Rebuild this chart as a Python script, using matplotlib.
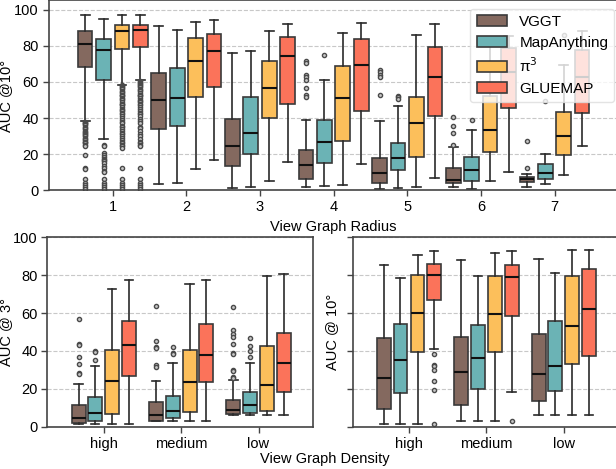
import matplotlib
matplotlib.use('Agg')
import matplotlib.pyplot as plt
from matplotlib.patches import Patch

plt.rcParams['font.family'] = ['Liberation Sans', 'DejaVu Sans']

models = ['VGGT', 'MapAnything', 'π$^3$', 'GLUEMAP']
colors = ['#84695f', '#6bb3b5', '#fcbf5b', '#fb735a']

# ---- top: AUC@10 vs view graph radius (rows = models, cols = radius 1..7)
radius_labels = ['1', '2', '3', '4', '5', '6', '7']
rad_med = [[81.1, 49.9, 24.7, 13.9, 9.4, 5.7, 6.1],
           [77.8, 51.0, 31.9, 27.0, 17.7, 11.3, 9.4],
           [88.3, 71.5, 56.5, 51.2, 37.2, 33.3, 29.9],
           [88.6, 76.9, 74.5, 69.3, 62.8, 65.2, 62.5]]
rad_q1 = [[68.2, 34.2, 13.5, 6.3, 3.9, 4.0, 4.4],
          [61.0, 35.8, 20.1, 15.3, 11.1, 5.0, 6.3],
          [78.2, 51.9, 40.3, 27.2, 18.7, 21.1, 19.4],
          [79.3, 56.9, 48.0, 43.8, 41.2, 45.8, 42.9]]
rad_q3 = [[88.3, 65.0, 39.4, 22.5, 18.1, 12.2, 7.5],
          [83.9, 67.5, 51.7, 39.0, 26.4, 18.5, 14.4],
          [91.7, 84.1, 71.3, 68.6, 51.6, 52.0, 43.3],
          [91.7, 86.3, 84.6, 83.7, 79.5, 78.7, 77.8]]
rad_lo = [[38.4, 3.3, 1.1, 1.7, 0.7, 1.7, 1.7],
          [28.4, 3.9, 2.0, 2.4, 1.1, 0.9, 3.3],
          [58.2, 11.6, 5.3, 3.1, 2.0, 5.3, 8.7],
          [61.0, 16.8, 15.5, 14.6, 6.7, 10.1, 24.7]]
rad_hi = [[97.2, 90.7, 75.8, 38.8, 38.1, 23.8, 8.9],
          [95.0, 88.5, 76.9, 61.2, 46.9, 33.6, 20.0],
          [96.9, 93.3, 88.2, 87.2, 86.1, 79.6, 69.1],
          [96.9, 94.1, 92.2, 92.8, 92.2, 85.6, 88.0]]
rad_fliers = [
    [[38, 37.5, 37, 36.5, 36, 35, 34.5, 34, 33, 32.5, 32, 31, 30.5, 30, 29, 28.5, 28, 27, 26.5,
      26, 25, 24.5, 19.5, 12.5, 12, 6.3, 4.2, 2.9, 1.7, 0.8],
     [], [], [71.3, 70.4, 63.9, 62.6, 61.1, 56.6, 52.9, 51.9],
     [66.7, 65.2, 63.8, 62.7, 52.7], [40.5, 35.8, 31.8, 25.0], [27.5, 12.5]],
    [[25, 24.5, 20.5, 19.5, 18.5, 17.5, 17, 16, 15, 13.5, 12.5, 11, 10, 6.3, 4.2, 2.9, 1.7, 0.8],
     [], [], [74.9], [52.3, 51.5, 50.8], [38.8], [49.5]],
    [[58, 57.5, 57, 56.5, 56, 55, 54.5, 54, 53, 52.5, 52, 51, 50.5, 50, 49, 48, 47.5, 47, 46, 45,
      44.5, 44, 43, 42, 41, 40, 39, 38, 37, 35.5, 35, 34, 33, 31.5, 31, 30, 29, 28, 27, 26, 25,
      24.5, 23.5, 12.5, 6.3, 4.2, 2.9, 1.7, 0.8],
     [], [], [], [], [], [86.1]],
    [[60.5, 60, 59.5, 59, 58, 57.5, 57, 56, 55.5, 55, 54, 53, 52.5, 52, 51, 50, 49.5, 49, 48, 47,
      46, 45, 44, 43, 42, 41, 39.5, 38.5, 37, 35, 34.5, 33, 31, 30, 28.5, 27, 26, 25, 24.5,
      12.5, 6.3, 4.2, 2.9, 1.7, 0.8],
     [], [], [], [], [], []],
]

# ---- bottom: view graph density (cols = high, medium, low)
density_labels = ['high', 'medium', 'low']
d3_med = [[4.4, 6.2, 9.1], [7.2, 8.3, 11.4], [24.1, 23.5, 22.0], [43.2, 37.9, 33.9]]
d3_q1 = [[2.1, 3.2, 6.7], [3.0, 4.8, 7.4], [6.7, 7.9, 8.3], [26.7, 23.7, 18.1]]
d3_q3 = [[11.4, 13.2, 14.2], [15.8, 16.5, 18.1], [40.7, 40.4, 42.6], [56.0, 54.2, 49.5]]
d3_lo = [[1.4, 3.0, 6.0], [1.4, 3.0, 6.0], [1.4, 3.0, 6.0], [1.4, 3.0, 6.0]]
d3_hi = [[22.6, 24.2, 24.7], [32.1, 33.7, 33.5], [72.5, 75.1, 79.7], [77.4, 77.4, 80.5]]
d3_fliers = [
    [[56.7, 43.5, 43.0, 37.0, 33.2, 28.5, 27.7], [63.5, 45.5, 42.0, 41.5, 32.6, 31.5],
     [63.3, 51.0, 49.0, 47.5, 43.7, 38.9, 38.3, 30.0, 29.3, 26.4, 25.9]],
    [[39.8, 39.3, 35.5], [42.3, 38.8, 38.4], [46.8, 42.4, 40.0, 37.0]],
    [[], [], []],
    [[], [], []],
]

d10_med = [[25.5, 29.0, 27.7], [35.5, 36.2, 31.9], [60.0, 59.3, 53.4], [80.2, 78.9, 62.3]]
d10_q1 = [[9.5, 11.3, 13.5], [17.9, 19.8, 18.9], [39.7, 39.7, 33.2], [67.0, 58.6, 37.6]]
d10_q3 = [[46.8, 47.6, 49.0], [54.4, 53.7, 55.6], [80.2, 79.8, 79.5], [85.8, 85.6, 83.4]]
d10_lo = [[1.4, 3.0, 6.2], [1.4, 3.0, 6.2], [1.4, 3.0, 6.2], [41.3, 18.3, 6.2]]
d10_hi = [[85.5, 88.1, 88.3], [78.3, 79.7, 81.1], [90.9, 91.9, 93.4], [92.6, 92.6, 93.5]]
d10_fliers = [
    [[], [], []],
    [[], [], []],
    [[], [], []],
    [[38.4, 32.6, 32.0, 30.0, 24.4, 19.3, 1.4], [3.0], []],
]


def draw_boxes(ax, med, q1, q3, lo, hi, fliers, offsets, width):
    for m in range(len(models)):
        stats = []
        for g in range(len(med[m])):
            stats.append({'med': med[m][g], 'q1': q1[m][g], 'q3': q3[m][g],
                          'whislo': lo[m][g], 'whishi': hi[m][g], 'fliers': fliers[m][g]})
        pos = [g + offsets[m] for g in range(len(stats))]
        ax.bxp(stats, positions=pos, widths=width, capwidths=width * 0.6,
               patch_artist=True, manage_ticks=False,
               boxprops=dict(facecolor=colors[m], edgecolor='#3a3a3a', linewidth=1.2),
               whiskerprops=dict(color='#2a2a2a', linewidth=1.2),
               capprops=dict(color='#2a2a2a', linewidth=1.2),
               medianprops=dict(color='#111111', linewidth=1.5),
               flierprops=dict(marker='o', markersize=3.0, markerfacecolor='#c8c8c8',
                               markeredgecolor='#4a4a4a', markeredgewidth=1.0))


def style_axis(ax):
    ax.set_ylim(0, 100)
    ax.set_yticks([0, 20, 40, 60, 80, 100])
    ax.grid(axis='y', color='#c8c8c8', linestyle='--', linewidth=0.8)
    ax.set_axisbelow(True)
    for s in ax.spines.values():
        s.set_color('#444444')
        s.set_linewidth(1.2)
    ax.tick_params(labelsize=10.5, color='#444444', length=4, width=1.0, pad=3)


fig = plt.figure(figsize=(6.16, 4.69), dpi=100)
ax_top = fig.add_axes([0.079, 0.594, 0.924, 0.405])
ax_bl = fig.add_axes([0.0768, 0.090, 0.4308, 0.404])
ax_br = fig.add_axes([0.5735, 0.090, 0.4297, 0.404])

draw_boxes(ax_top, rad_med, rad_q1, rad_q3, rad_lo, rad_hi, rad_fliers,
           [-0.375, -0.125, 0.125, 0.375], 0.2)
style_axis(ax_top)
ax_top.set_ylim(0, 105)
ax_top.set_xlim(-0.87, 6.86)
ax_top.set_xticks(range(len(radius_labels)))
ax_top.set_xticklabels(radius_labels)
ax_top.set_xlabel('View Graph Radius', fontsize=10.5)
ax_top.set_ylabel('AUC @10°', fontsize=10.5)
ax_top.yaxis.set_label_coords(-0.062, 0.5)

handles = [Patch(facecolor=c, edgecolor='#3a3a3a', linewidth=1.2) for c in colors]
leg = ax_top.legend(handles, models, loc='upper left', bbox_to_anchor=(0.741, 0.957),
                    borderaxespad=0, fontsize=11, framealpha=0.8, edgecolor='#dddddd',
                    handlelength=2.0, handleheight=0.75, labelspacing=0.45,
                    handletextpad=0.8, borderpad=0.4)

draw_boxes(ax_bl, d3_med, d3_q1, d3_q3, d3_lo, d3_hi, d3_fliers,
           [-0.325, -0.11, 0.11, 0.325], 0.18)
style_axis(ax_bl)
ax_bl.set_xlim(-0.73, 2.70)
ax_bl.set_xticks(range(len(density_labels)))
ax_bl.set_xticklabels(density_labels)
ax_bl.set_ylabel('AUC @ 3°', fontsize=10.5)
ax_bl.yaxis.set_label_coords(-0.128, 0.5)

draw_boxes(ax_br, d10_med, d10_q1, d10_q3, d10_lo, d10_hi, d10_fliers,
           [-0.325, -0.11, 0.11, 0.325], 0.18)
style_axis(ax_br)
ax_br.set_xlim(-0.72, 2.70)
ax_br.set_xticks(range(len(density_labels)))
ax_br.set_xticklabels(density_labels)
ax_br.tick_params(labelleft=False)
ax_br.set_ylabel('AUC @ 10°', fontsize=10.5)
ax_br.yaxis.set_label_coords(-0.054, 0.5)

fig.text(0.5276, 0.021, 'View Graph Density', ha='center', va='center', fontsize=10.5)

fig.savefig('out.png', dpi=100)
